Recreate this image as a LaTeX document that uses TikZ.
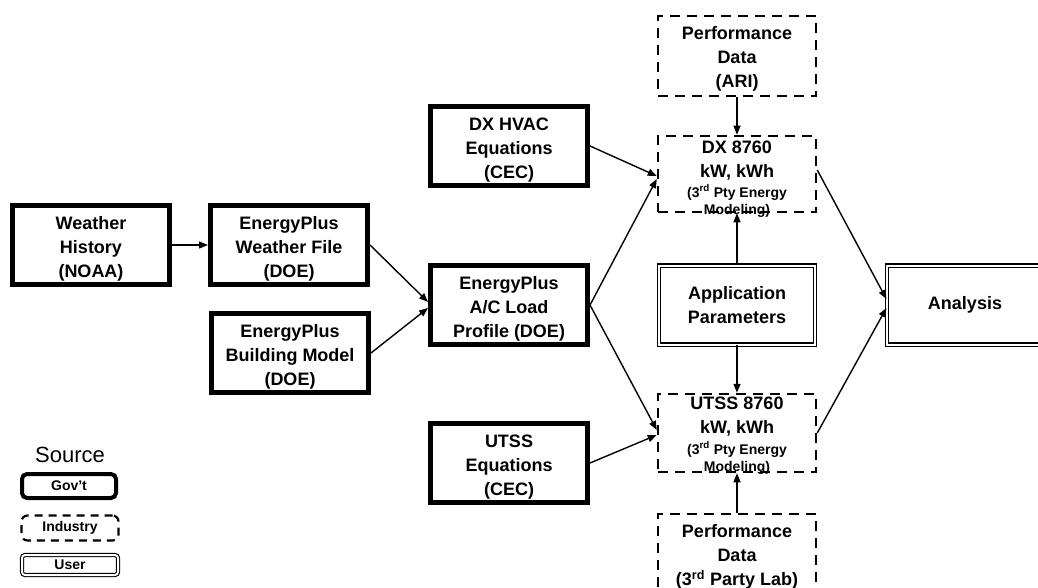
\documentclass[tikz,border=0pt]{standalone}
\usepackage{fontspec}
\setmainfont{Liberation Sans}
\usetikzlibrary{arrows.meta,calc}
\newcommand{\gtop}{\rule{0pt}{21pt}}
\newcommand{\itop}{\rule{0pt}{19pt}}
\begin{document}
\begin{tikzpicture}[x=1pt,y=-1pt,
  txt/.style={align=center, inner sep=0pt, font=\bfseries\fontsize{18}{24}\selectfont},
  smalltxt/.style={align=center, inner sep=0pt, font=\bfseries\fontsize{14}{17}\selectfont},
  gov/.style={draw, line width=5pt, minimum width=157pt, minimum height=79pt, txt},
  ind/.style={draw, line width=2.5pt, dash pattern=on 10pt off 7pt, minimum width=158pt, txt},
  usr/.style={draw, double, double distance=2pt, line width=1.2pt, minimum width=156pt, minimum height=79pt, txt},
  arr/.style={-{Triangle[length=9pt,width=7pt]}, line width=1.4pt}
]
\useasboundingbox (0,0) rectangle (1038,588);

% Government boxes
\node[gov] (wh)  at (91,245)  {\gtop Weather\\History\\(NOAA)};
\node[gov] (epw) at (289,245) {\gtop EnergyPlus\\Weather File\\(DOE)};
\node[gov] (epb) at (290,353) {\gtop EnergyPlus\\Building Model\\(DOE)};
\node[gov] (ac)  at (509,305) {\gtop EnergyPlus\\A/C Load\\Profile (DOE)};
\node[gov] (dxh) at (509,146) {\gtop DX HVAC\\Equations\\(CEC)};
\node[gov] (ute) at (509,463) {\gtop UTSS\\Equations\\(CEC)};

% Industry boxes
\node[ind, minimum height=80pt] (ari) at (737,56) {\itop Performance\\Data\\(ARI)};
\node[ind, minimum height=76pt] (dx)  at (737,174) {};
\node[txt] (dxa) at (737,161) {DX 8760\\kW, kWh};
\node[smalltxt] (dxb) at (737,201) {(3\textsuperscript{rd} Pty Energy\\Modeling)};
\node[ind, minimum height=78pt] (ut)  at (737,433) {};
\node[txt] (uta) at (737,417) {UTSS 8760\\kW, kWh};
\node[smalltxt] (utb) at (737,458) {(3\textsuperscript{rd} Pty Energy\\Modeling)};
\node[ind, minimum height=80pt] (p3)  at (737,554) {\itop Performance\\Data\\(3\textsuperscript{rd} Party Lab)};

% User boxes
\node[usr] (app) at (737,305) {Application\\Parameters};
\node[usr] (ana) at (965,305) {Analysis};

% Connectors
\draw[arr] (wh.east) -- (epw.west);
\draw[arr] (epw.east) -- ($(ac.west)+(0,-3)$);
\draw[arr] (epb.east) -- ($(ac.west)+(0,3)$);
\draw[arr] (dxh.east) -- ($(dx.west)+(0,2)$);
\draw[arr] (ac.east) -- ($(dx.west)+(0,5)$);
\draw[arr] (ac.east) -- ($(ut.west)+(0,-3)$);
\draw[arr] (ute.east) -- ($(ut.west)+(0,2)$);
\draw[arr] (ari.south) -- (dx.north);
\draw[arr] (app.north) -- (dx.south);
\draw[arr] (app.south) -- (ut.north);
\draw[arr] (p3.north) -- (ut.south);
\draw[arr] ($(dx.east)+(0,-4)$) -- ($(ana.west)+(0,-6)$);
\draw[arr] (ut.east) -- ($(ana.west)+(0,3)$);

% Legend
\node[font=\fontsize{22}{26}\selectfont, inner sep=0pt] (src) at (70,455) {Source};
\node[draw, line width=4pt, rounded corners=5pt, minimum width=94pt, minimum height=24pt,
      font=\bfseries\fontsize{14}{17}\selectfont, inner sep=0pt] (lgov) at (69,486) {Gov't};
\node[draw, line width=2.2pt, dash pattern=on 8pt off 6pt, rounded corners=6pt, minimum width=97pt, minimum height=25pt,
      font=\bfseries\fontsize{14}{17}\selectfont, inner sep=0pt] (lind) at (70,528) {Industry};
\node[draw, double, double distance=2pt, line width=1.1pt, rounded corners=3pt, minimum width=96pt, minimum height=20pt,
      font=\bfseries\fontsize{14}{17}\selectfont, inner sep=0pt] (lusr) at (70,565) {User};
\end{tikzpicture}
\end{document}
